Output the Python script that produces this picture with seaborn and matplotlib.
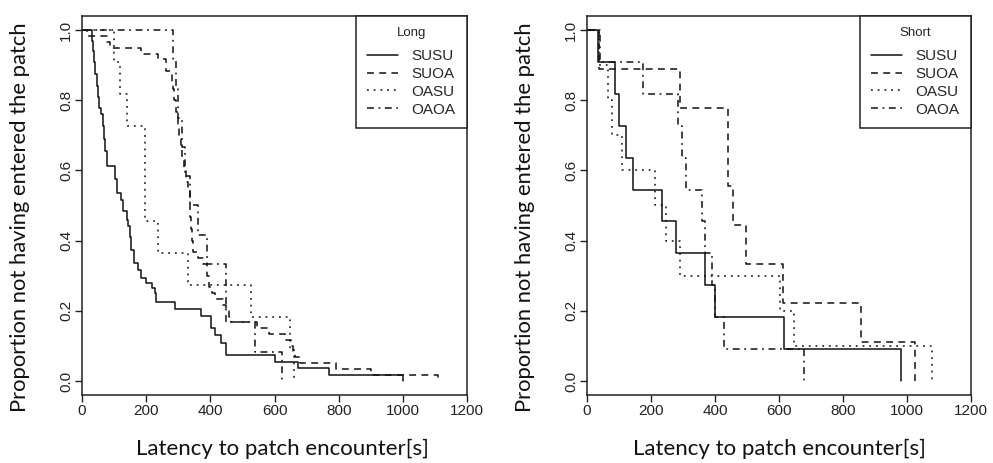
import numpy as np
import pandas as pd
import matplotlib
matplotlib.use("Agg")
import matplotlib.pyplot as plt
import seaborn as sns

# Kaplan-Meier style step curves
# times in seconds, proportion still outside the patch after each event

# ---- Long ----
long_susu_t = [0, 30, 33, 38, 42, 46, 50, 54, 60, 66, 70, 73, 77, 103, 108, 123, 128, 139,
               143, 149, 153, 163, 175, 185, 198, 217, 227, 232, 289, 372, 403, 413, 434,
               450, 600, 672, 771, 1000]
long_susu_p = [1.0, 0.97, 0.94, 0.91, 0.874, 0.84, 0.81, 0.779, 0.76, 0.727, 0.69, 0.655,
               0.612, 0.575, 0.536, 0.517, 0.484, 0.46, 0.441, 0.41, 0.374, 0.336, 0.317,
               0.293, 0.279, 0.265, 0.25, 0.226, 0.205, 0.184, 0.15, 0.131, 0.108, 0.074,
               0.055, 0.038, 0.017, 0.0]

long_suoa_t = [0, 15, 77, 87, 185, 237, 263, 279, 283, 288, 293, 298, 303, 308, 313, 318,
               325, 330, 336, 338, 340, 342, 345, 362, 378, 390, 396, 405, 415, 440, 450,
               458, 465, 545, 584, 634, 650, 657, 665, 678, 792, 900, 1111]
long_suoa_p = [1.0, 0.983, 0.967, 0.95, 0.933, 0.917, 0.883, 0.85, 0.833, 0.8, 0.767, 0.733,
               0.7, 0.667, 0.633, 0.6, 0.567, 0.55, 0.5, 0.467, 0.433, 0.4, 0.367, 0.35,
               0.333, 0.3, 0.267, 0.25, 0.233, 0.217, 0.2, 0.183, 0.167, 0.15, 0.133, 0.117,
               0.1, 0.083, 0.067, 0.05, 0.033, 0.017, 0.0]

long_oasu_t = [0, 100, 118, 139, 196, 237, 331, 527, 649, 662]
long_oasu_p = [1.0, 0.909, 0.818, 0.727, 0.455, 0.364, 0.273, 0.182, 0.091, 0.0]

long_oaoa_t = [0, 284, 292, 300, 312, 322, 336, 363, 388, 450, 538, 624]
long_oaoa_p = [1.0, 0.917, 0.833, 0.75, 0.667, 0.583, 0.5, 0.417, 0.333, 0.167, 0.083, 0.0]

# ---- Short ----
short_susu_t = [0, 36, 88, 101, 122, 145, 236, 278, 368, 399, 617, 980]
short_susu_p = [1.0, 0.909, 0.818, 0.727, 0.636, 0.545, 0.455, 0.364, 0.273, 0.182, 0.091, 0.0]

short_suoa_t = [0, 38, 290, 441, 456, 496, 614, 856, 1025]
short_suoa_p = [1.0, 0.889, 0.778, 0.556, 0.444, 0.333, 0.222, 0.111, 0.0]

short_oasu_t = [0, 38, 67, 78, 109, 213, 247, 290, 602, 648, 1077]
short_oasu_p = [1.0, 0.9, 0.8, 0.7, 0.6, 0.5, 0.4, 0.3, 0.2, 0.1, 0.0]

short_oaoa_t = [0, 40, 174, 285, 296, 309, 358, 368, 391, 400, 427, 679]
short_oaoa_p = [1.0, 0.909, 0.818, 0.727, 0.636, 0.545, 0.455, 0.364, 0.273, 0.182, 0.091, 0.0]

groups = ["SUSU", "SUOA", "OASU", "OAOA"]
line_styles = {"SUSU": "-",
               "SUOA": (0, (4.5, 3.5)),
               "OASU": (0, (1.2, 3.2)),
               "OAOA": (0, (4.5, 3, 1.2, 3))}

sns.set_style("ticks")
plt.rcParams['font.family'] = ['Liberation Sans', 'DejaVu Sans']

fig = plt.figure(figsize=(9.93, 4.63), dpi=100)
ax1 = fig.add_axes([0.0826, 0.1469, 0.3877, 0.8186])
ax2 = fig.add_axes([0.5911, 0.1469, 0.3867, 0.8186])

panels = [
    (ax1, "Long", 0.52, [(long_susu_t, long_susu_p), (long_suoa_t, long_suoa_p),
                         (long_oasu_t, long_oasu_p), (long_oaoa_t, long_oaoa_p)]),
    (ax2, "Short", 0.5, [(short_susu_t, short_susu_p), (short_suoa_t, short_suoa_p),
                         (short_oasu_t, short_oasu_p), (short_oaoa_t, short_oaoa_p)]),
]

for ax, title, xlab_pos, curves in panels:
    for name, (t, p) in zip(groups, curves):
        df = pd.DataFrame({"t": t, "p": p})
        sns.lineplot(data=df, x="t", y="p", ax=ax, color="#111111", lw=1.1,
                     drawstyle="steps-post", estimator=None, sort=False,
                     linestyle=line_styles[name], label=name)

    ax.set_xlim(0, 1200)
    ax.set_ylim(-0.04, 1.04)
    ax.set_xticks(np.arange(0, 1201, 200))
    ax.set_yticks(np.arange(0, 1.01, 0.2))
    ax.set_yticklabels([f"{v:.1f}" for v in np.arange(0, 1.01, 0.2)],
                       rotation=90, va="center")
    ax.tick_params(axis="both", direction="out", length=5, width=1,
                   colors="#222222", labelsize=11, pad=1.5)
    for s in ax.spines.values():
        s.set_visible(True)
        s.set_color("#222222")
        s.set_linewidth(1.1)

    ax.set_xlabel("Latency to patch encounter[s]", family=["Lato", "DejaVu Sans"],
                  fontsize=16, color="#111111")
    ax.set_ylabel("Proportion not having entered the patch", family=["Lato", "DejaVu Sans"],
                  fontsize=15.8, color="#111111")
    ax.xaxis.set_label_coords(xlab_pos, -0.116)
    ax.yaxis.set_label_coords(-0.135, 0.47)

    leg = ax.legend(title=title, loc="upper right", borderaxespad=0, fancybox=False,
                    framealpha=1, edgecolor="#222222", fontsize=11, handlelength=2.0,
                    handletextpad=0.9, labelspacing=0.25, borderpad=0.75)
    leg.get_frame().set_linewidth(1.1)
    leg.get_title().set_fontsize(9.5)
    leg.get_title().set_family(["Liberation Sans Narrow", "Liberation Sans"])
    leg._legend_box.sep = 7

fig.savefig("out.png", dpi=100)
